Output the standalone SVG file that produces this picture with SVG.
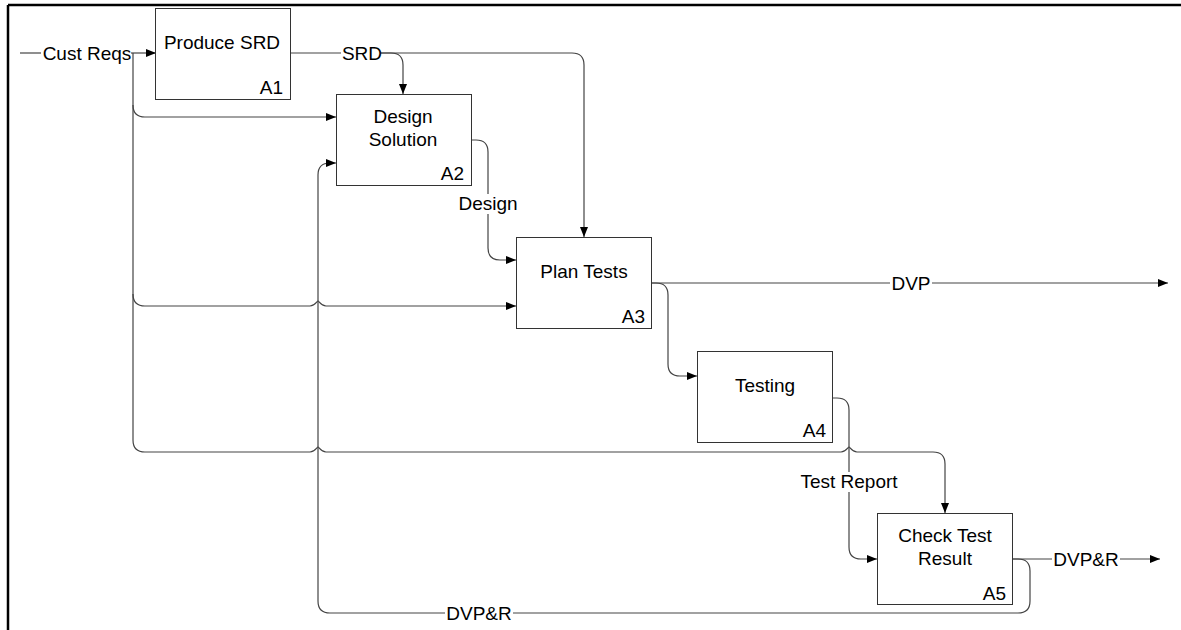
<svg xmlns="http://www.w3.org/2000/svg" width="1181" height="630" viewBox="0 0 1181 630">
<style>
.box{fill:#fff;stroke:#333;stroke-width:1}
.t{font-family:"Liberation Sans",Arial,sans-serif;font-size:19px;fill:#000;text-anchor:middle}
.id{font-family:"Liberation Sans",Arial,sans-serif;font-size:19px;fill:#000;text-anchor:end}
.ln{fill:none;stroke:#444;stroke-width:1.2}
.bg{fill:#fff}
</style>
<defs>
<marker id="ah" markerUnits="userSpaceOnUse" markerWidth="10" markerHeight="8" refX="10" refY="4" orient="auto">
<path d="M0,0 L10,4 L0,8 z" fill="#000"/>
</marker>
</defs>
<rect width="1181" height="630" fill="#fff"/>
<path d="M8,5 H1181 M8,5 V630" fill="none" stroke="#000" stroke-width="2.5"/>

<g id="connectors">
<path class="ln" d="M20,53 H41"/>
<path class="ln" d="M131,53 H156" marker-end="url(#ah)"/>
<path class="ln" d="M133,53 V440 Q133,452 145,452 H310 C315,452 317,447 318,447 C319,447 321,452 326,452 H841 C846,452 848,447 849,447 C850,447 852,452 857,452 H933 Q945,452 945,464 V513" marker-end="url(#ah)"/>
<path class="ln" d="M133,105 Q133,117 145,117 H336" marker-end="url(#ah)"/>
<path class="ln" d="M133,294 Q133,306 145,306 H310 C315,306 317,301 318,301 C319,301 321,306 326,306 H516" marker-end="url(#ah)"/>
<path class="ln" d="M291,53 H341"/>
<path class="ln" d="M381,53 H391 Q403,53 403,65 V94" marker-end="url(#ah)"/>
<path class="ln" d="M381,53 H572 Q584,53 584,65 V237" marker-end="url(#ah)"/>
<path class="ln" d="M472,140 H476 Q488,140 488,152 V248 Q488,260 500,260 H516" marker-end="url(#ah)"/>
<path class="ln" d="M652,283 H1168" marker-end="url(#ah)"/>
<path class="ln" d="M652,283 H656 Q668,283 668,295 V364 Q668,376 680,376 H697" marker-end="url(#ah)"/>
<path class="ln" d="M833,398 H837 Q849,398 849,410 V547 Q849,559 861,559 H877" marker-end="url(#ah)"/>
<path class="ln" d="M1013,559 H1160" marker-end="url(#ah)"/>
<path class="ln" d="M1013,559 H1018 Q1030,559 1030,571 V601 Q1030,613 1018,613 H330 Q318,613 318,601 V175 Q318,163 330,163 H336" marker-end="url(#ah)"/>
<rect class="bg" x="342" y="44" width="39" height="18"/>
<text class="t" x="362" y="60">SRD</text>
<text class="t" x="87" y="60">Cust Reqs</text>
<rect class="bg" x="457" y="194" width="62" height="20"/>
<text class="t" x="488" y="210">Design</text>
<rect class="bg" x="890" y="274" width="42" height="18"/>
<text class="t" x="911" y="290">DVP</text>
<rect class="bg" x="798" y="472" width="102" height="20"/>
<text class="t" x="849" y="488">Test Report</text>
<rect class="bg" x="1052" y="550" width="68" height="18"/>
<text class="t" x="1086" y="566">DVP&amp;R</text>
<rect class="bg" x="445" y="604" width="68" height="18"/>
<text class="t" x="479" y="620">DVP&amp;R</text>
</g>

<g id="A1">
<rect class="box" x="155.5" y="8.5" width="135" height="91"/>
<text class="t" x="222" y="49">Produce SRD</text>
<text class="id" x="283" y="94">A1</text>
</g>
<g id="A2">
<rect class="box" x="336.5" y="94.5" width="135" height="91"/>
<text class="t" x="403" y="123">Design</text>
<text class="t" x="403" y="146">Solution</text>
<text class="id" x="464" y="180">A2</text>
</g>
<g id="A3">
<rect class="box" x="516.5" y="237.5" width="135" height="91"/>
<text class="t" x="584" y="278">Plan Tests</text>
<text class="id" x="645" y="323">A3</text>
</g>
<g id="A4">
<rect class="box" x="697.5" y="351.5" width="135" height="91"/>
<text class="t" x="765" y="392">Testing</text>
<text class="id" x="826" y="437">A4</text>
</g>
<g id="A5">
<rect class="box" x="877.5" y="513.5" width="135" height="91"/>
<text class="t" x="945" y="542">Check Test</text>
<text class="t" x="945" y="565">Result</text>
<text class="id" x="1006" y="600">A5</text>
</g>
</svg>
